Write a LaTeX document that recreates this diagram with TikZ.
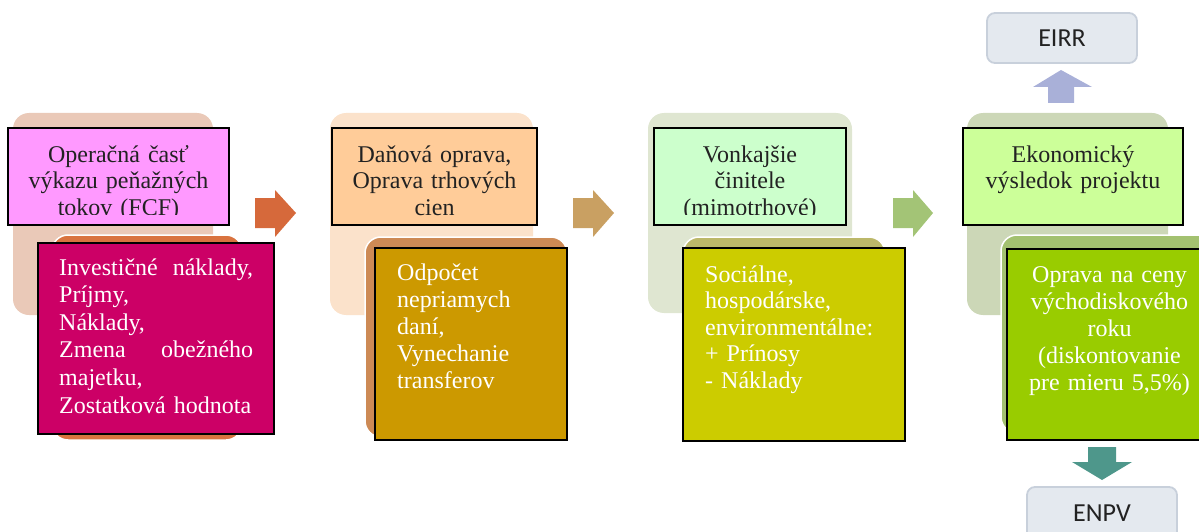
\documentclass[tikz,border=0pt]{standalone}
\usepackage{fontspec}
\setmainfont{Liberation Serif}
\newfontfamily\labelfont{Carlito}

% column palettes: pale backdrop, shadow card, header card, body card
\definecolor{bgA}{HTML}{EAC9B8}\definecolor{shA}{HTML}{D9733F}
\definecolor{hdA}{HTML}{FF99FF}\definecolor{bdA}{HTML}{CC0066}
\definecolor{bgB}{HTML}{FBE2CB}\definecolor{shB}{HTML}{CD8A55}
\definecolor{hdB}{HTML}{FFCC99}\definecolor{bdB}{HTML}{CC9900}
\definecolor{bgC}{HTML}{DFE6D1}\definecolor{shC}{HTML}{BCB86A}
\definecolor{hdC}{HTML}{CCFFCC}\definecolor{bdC}{HTML}{CCCC00}
\definecolor{bgD}{HTML}{CCD7B7}\definecolor{shD}{HTML}{A3C170}
\definecolor{hdD}{HTML}{CCFF99}\definecolor{bdD}{HTML}{99CC00}
% block arrows
\definecolor{arA}{HTML}{D6693B}\definecolor{arB}{HTML}{C9A062}
\definecolor{arC}{HTML}{A3C476}\definecolor{arUp}{HTML}{A9B0D8}
\definecolor{arDown}{HTML}{4E978B}
% result badges
\definecolor{resfill}{HTML}{E4E9EF}\definecolor{resline}{HTML}{C8D0DB}
\definecolor{ink}{HTML}{222222}

\newcommand{\spreadline}[1]{\leavevmode\hbox to 194pt{#1}}

\begin{document}
\begin{tikzpicture}[x=1pt,y=-1pt,
  backdrop/.style={rounded corners=16pt},
  shadowcard/.style={rounded corners=16pt, draw=white, line width=1.5pt},
  card/.style={draw=black, line width=1.6pt},
  headtext/.style={font=\fontsize{24}{26.5}\selectfont, text=ink,
    text width=#1, align=center, inner sep=0pt, anchor=base},
  bodytext/.style={font=\fontsize{24}{27.5}\selectfont, text=white,
    text width=#1, align=left, inner sep=0pt, anchor=base west},
  bodycentre/.style={font=\fontsize{24}{27.2}\selectfont, text=white,
    text width=#1, align=center, inner sep=0pt, anchor=base},
  badge/.style={rounded corners=8pt, draw=resline, fill=resfill, line width=1.8pt},
  badgetext/.style={font=\labelfont\fontsize{26}{28}\selectfont, text=ink, inner sep=0pt}
]
\useasboundingbox (0,0) rectangle (1199,532);
\clip (0,0) rectangle (1199,532);

% ---------- column 1: operating cash flow ----------
\fill[backdrop, bgA] (13,113) rectangle (213,315);
\draw[shadowcard, fill=shA] (52,235) rectangle (242,440);
\draw[card, fill=hdA] (8,128) rectangle (229,225);
\begin{scope}
  \clip (8,128) rectangle (229,214);
  \node[headtext=215pt] (headA) at (118.5,162) {Operačná časť\\výkazu peňažných\\tokov (FCF)};
\end{scope}
\draw[card, fill=bdA] (38,243) rectangle (274,434);
\node[bodytext=194pt, font=\fontsize{24}{27.6}\selectfont] (bodyA) at (59,275)
  {\spreadline{Investičné\hfill náklady,}\\Príjmy,\\Náklady,\\\spreadline{Zmena\hfill obežného}\\majetku,\\Zostatková hodnota};

\fill[arA] (255,198) -- (275,198) -- (275,190) -- (296,213) -- (275,237) -- (275,228) -- (255,228) -- cycle;

% ---------- column 2: tax and market price correction ----------
\fill[backdrop, bgB] (330,113) rectangle (533,315);
\draw[shadowcard, fill=shB] (365,237) rectangle (567,437);
\draw[card, fill=hdB] (332,128) rectangle (537,225);
\begin{scope}
  \clip (332,128) rectangle (537,215);
  \node[headtext=200pt] (headB) at (434.5,162) {Daňová oprava,\\Oprava trhových\\cien};
\end{scope}
\draw[card, fill=bdB] (375,248) rectangle (567,440);
\node[bodytext=165pt, font=\fontsize{24}{27}\selectfont] (bodyB) at (397,280)
  {Odpočet\\nepriamych\\daní,\\Vynechanie\\transferov};

\fill[arB] (573,198) -- (593,198) -- (593,190) -- (614,213) -- (593,237) -- (593,228) -- (573,228) -- cycle;

% ---------- column 3: external (non-market) factors ----------
\fill[backdrop, bgC] (648,113) rectangle (852,313);
\draw[shadowcard, fill=shC] (683,237) rectangle (885,437);
\draw[card, fill=hdC] (654,128) rectangle (846,225);
\begin{scope}
  \clip (654,128) rectangle (846,214);
  \node[headtext=190pt] (headC) at (750,162) {Vonkajšie\\činitele\\(mimotrhové)};
\end{scope}
\draw[card, fill=bdC] (683,248) rectangle (905,441);
\node[bodytext=195pt, font=\fontsize{24}{26.6}\selectfont] (bodyC) at (705,282)
  {Sociálne,\\hospodárske,\\environmentálne:\\+ Prínosy\\- Náklady};

\fill[arC] (893,198) -- (913,198) -- (913,190) -- (933,213) -- (913,237) -- (913,228) -- (893,228) -- cycle;

% ---------- column 4: economic result ----------
\fill[backdrop, bgD] (967,113) rectangle (1168,315);
\draw[shadowcard, fill=shD] (1001,235) rectangle (1230,433);
\draw[card, fill=hdD] (963,128) rectangle (1183,225);
\node[headtext=215pt] (headD) at (1073,162) {Ekonomický\\výsledok projektu};
\draw[card, fill=bdD] (1007,249) rectangle (1212,440);
\node[bodycentre=200pt] (bodyD) at (1109.5,282)
  {Oprava na ceny\\východiskového\\roku\\(diskontovanie\\pre mieru 5,5\%)};

% ---------- results ----------
\draw[badge] (987,13) rectangle (1137,63);
\node[badgetext] (eirr) at (1062,38) {EIRR};
\fill[arUp] (1048,103) -- (1048,87) -- (1033,87) -- (1061,70) -- (1092,87) -- (1074,87) -- (1074,103) -- cycle;

\fill[arDown] (1088,447) -- (1116,447) -- (1116,462) -- (1132,462) -- (1102,480) -- (1072,462) -- (1088,462) -- cycle;
\draw[badge] (1027,487) rectangle (1177,560);
\node[badgetext] (enpv) at (1102,513) {ENPV};
\end{tikzpicture}
\end{document}
